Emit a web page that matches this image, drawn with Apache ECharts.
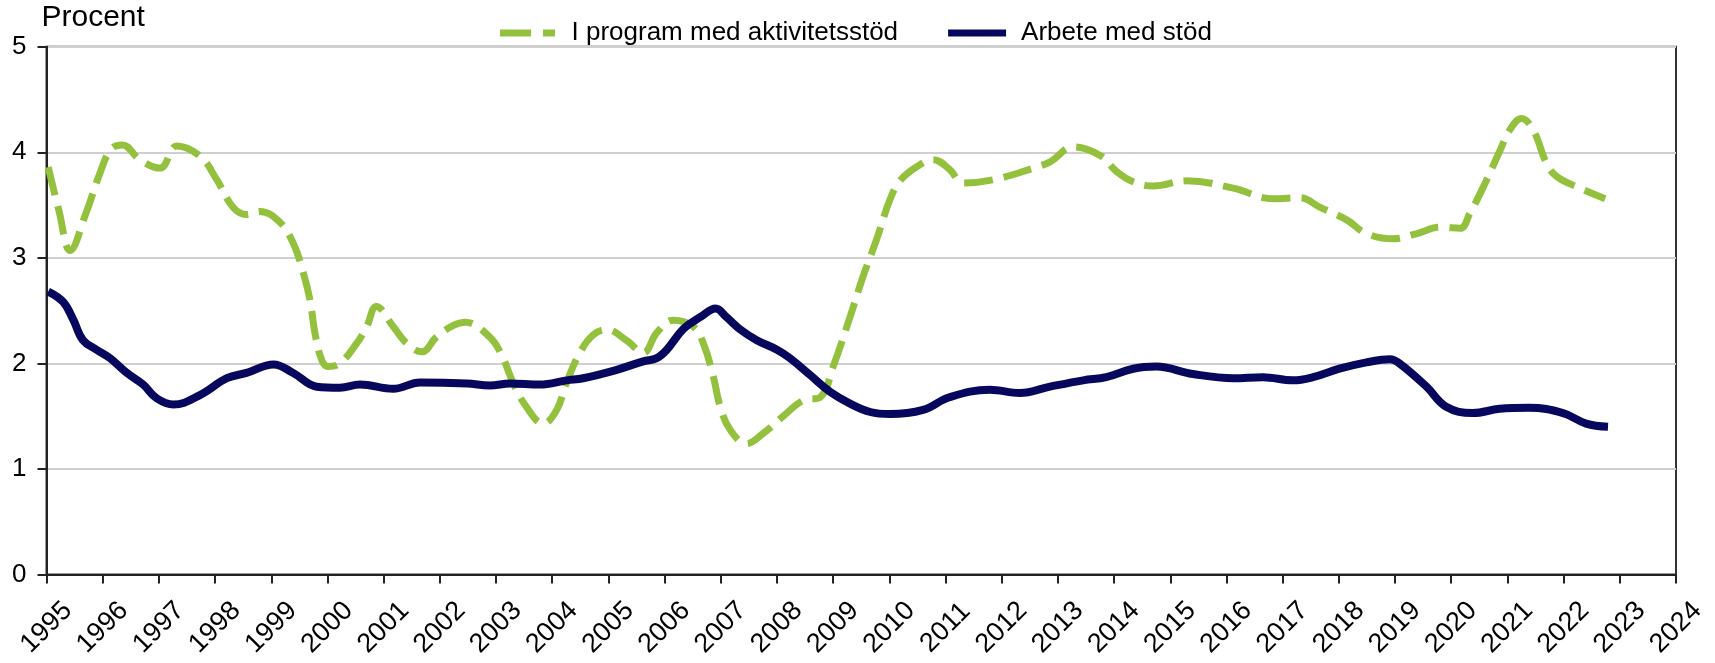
<!DOCTYPE html>
<html>
<head>
<meta charset="utf-8">
<script src="https://cdn.jsdelivr.net/npm/echarts@6/dist/echarts.min.js"></script>
<style>
html,body{margin:0;padding:0;background:#fff;}
#chart{width:1715px;height:663px;}
</style>
</head>
<body>
<div id="chart"></div>
<script>
// Tick labels / axis
var yearMin = 1995;
var yearMax = 2024;
var yTicks = [0, 1, 2, 3, 4, 5];
var yTitle = 'Procent';

// Series names
var seriesNames = ['I program med aktivitetsstöd', 'Arbete med stöd'];

// "I program med aktivitetsstöd" (time in decimal years, value in percent)
var programX = [1995.03,1995.22,1995.42,1995.70,1995.95,1996.15,1996.35,1996.66,1997.02,1997.32,1997.74,1998.03,1998.32,1998.56,1998.80,1999.15,1999.39,1999.57,1999.69,1999.78,1999.90,2000.01,2000.22,2000.52,2000.70,2000.87,2001.17,2001.41,2001.68,2001.94,2002.24,2002.45,2002.89,2003.10,2003.31,2003.54,2003.84,2004.08,2004.25,2004.49,2004.73,2004.97,2005.32,2005.62,2005.86,2006.15,2006.51,2006.69,2006.87,2006.99,2007.17,2007.46,2007.76,2008.11,2008.47,2008.77,2009.00,2009.30,2009.53,2009.77,2010.01,2010.19,2010.48,2010.78,2011.07,2011.31,2011.85,2012.56,2012.86,2013.27,2013.75,2014.04,2014.34,2014.70,2015.29,2016.12,2016.83,2017.31,2017.66,2018.14,2018.49,2018.97,2019.39,2019.80,2020.16,2020.33,2020.57,2020.87,2021.04,2021.25,2021.46,2021.70,2021.88,2022.29,2022.74];
var programY = [3.86,3.45,3.07,3.42,3.80,4.03,4.07,3.93,3.85,4.06,3.96,3.74,3.48,3.41,3.44,3.34,3.14,2.86,2.60,2.28,2.03,1.97,2.00,2.19,2.35,2.54,2.35,2.19,2.11,2.25,2.36,2.39,2.25,2.08,1.81,1.59,1.43,1.56,1.81,2.10,2.27,2.32,2.22,2.10,2.29,2.41,2.35,2.19,1.87,1.59,1.37,1.24,1.34,1.50,1.65,1.68,1.97,2.44,2.82,3.17,3.55,3.73,3.86,3.93,3.84,3.71,3.74,3.85,3.91,4.05,3.97,3.82,3.72,3.68,3.73,3.66,3.56,3.57,3.48,3.36,3.23,3.18,3.23,3.29,3.28,3.42,3.67,4.02,4.21,4.32,4.21,3.89,3.77,3.66,3.56];

// "Arbete med stöd"
var arbeteX = [1995.03,1995.30,1995.48,1995.65,1995.89,1996.13,1996.43,1996.72,1996.96,1997.26,1997.73,1998.21,1998.56,1999.04,1999.39,1999.81,2000.22,2000.58,2001.17,2001.65,2002.48,2002.89,2003.25,2003.78,2004.26,2004.55,2005.15,2005.62,2005.86,2006.04,2006.34,2006.64,2006.91,2007.10,2007.35,2007.64,2008.00,2008.23,2008.59,2008.95,2009.30,2009.66,2010.01,2010.60,2011.07,2011.79,2012.32,2012.86,2013.45,2013.86,2014.34,2014.75,2015.40,2016.12,2016.65,2017.18,2017.54,2018.01,2018.49,2018.91,2019.08,2019.56,2019.91,2020.38,2020.86,2021.39,2021.99,2022.40,2022.79];
var arbeteY = [2.68,2.58,2.41,2.22,2.13,2.05,1.91,1.80,1.67,1.61,1.70,1.86,1.91,1.99,1.91,1.78,1.77,1.80,1.76,1.82,1.81,1.79,1.81,1.80,1.84,1.86,1.94,2.02,2.05,2.13,2.33,2.44,2.52,2.44,2.32,2.22,2.13,2.05,1.89,1.73,1.62,1.54,1.52,1.56,1.68,1.75,1.72,1.78,1.84,1.87,1.95,1.97,1.90,1.86,1.87,1.84,1.87,1.95,2.01,2.04,2.00,1.78,1.59,1.53,1.57,1.58,1.53,1.43,1.40];

function pairs(xs, ys){ return xs.map(function(x,i){ return [x, ys[i]]; }); }

var FONT = '"Liberation Sans", Arial, Helvetica, sans-serif';
var GREEN = '#93C13E';
var NAVY = '#07075E';

var chart = echarts.init(document.getElementById('chart'), null, {renderer:'canvas'});
chart.setOption({
  animation: false,
  backgroundColor: '#fff',
  legend: {
    left: 495, top: 15,
    itemWidth: 58, itemHeight: 7, itemGap: 50,
    textStyle: {fontFamily: FONT, fontSize: 26, color: '#000', padding: [0,0,0,10]},
    data: [
      {name: seriesNames[0], icon: 'path://M0,0H31V7H0Z M43,0H55V7H43Z', itemStyle: {color: GREEN}},
      {name: seriesNames[1], icon: 'path://M0,0H58V7H0Z', itemStyle: {color: NAVY}}
    ]
  },
  grid: {
    left: 46.5, right: 39, top: 46.7, bottom: 88.4,
    outerBoundsMode: 'none', containLabel: false,
    show: true, borderColor: '#333', borderWidth: 2, backgroundColor: 'transparent'
  },
  xAxis: {
    type: 'value', min: yearMin, max: yearMax, interval: 1,
    axisLine: {show: true, onZero: false, lineStyle: {color: '#222', width: 2}},
    axisTick: {show: true, length: 9, lineStyle: {color: '#222', width: 2}},
    splitLine: {show: false},
    axisLabel: {
      rotate: 45, align: 'center', verticalAlign: 'middle', margin: 53,
      fontFamily: FONT, fontSize: 27, color: '#000',
      showMinLabel: true, showMaxLabel: true, hideOverlap: false,
      formatter: function(v){ return String(Math.round(v)); }
    }
  },
  yAxis: {
    type: 'value', min: yTicks[0], max: yTicks[yTicks.length-1], interval: 1,
    name: yTitle, nameLocation: 'end', nameGap: 14,
    nameTextStyle: {fontFamily: FONT, fontSize: 30, color: '#000', align: 'left', verticalAlign: 'bottom', padding: [0,0,0,-5]},
    axisLine: {show: true, lineStyle: {color: '#222', width: 2}},
    axisTick: {show: true, length: 9, lineStyle: {color: '#222', width: 2}},
    splitLine: {show: true, lineStyle: {color: '#cfcfcf', width: 2}},
    axisLabel: {fontFamily: FONT, fontSize: 26, color: '#000', margin: 20}
  },
  series: [
    {
      name: seriesNames[0], type: 'line', data: pairs(programX, programY),
      smooth: 0.4, showSymbol: false, symbol: 'none',
      lineStyle: {color: GREEN, width: 7, type: [29, 11]},
      itemStyle: {color: GREEN}, z: 3
    },
    {
      name: seriesNames[1], type: 'line', data: pairs(arbeteX, arbeteY),
      smooth: 0.4, showSymbol: false, symbol: 'none',
      lineStyle: {color: NAVY, width: 8},
      itemStyle: {color: NAVY}, z: 4
    }
  ]
});
</script>
</body>
</html>
